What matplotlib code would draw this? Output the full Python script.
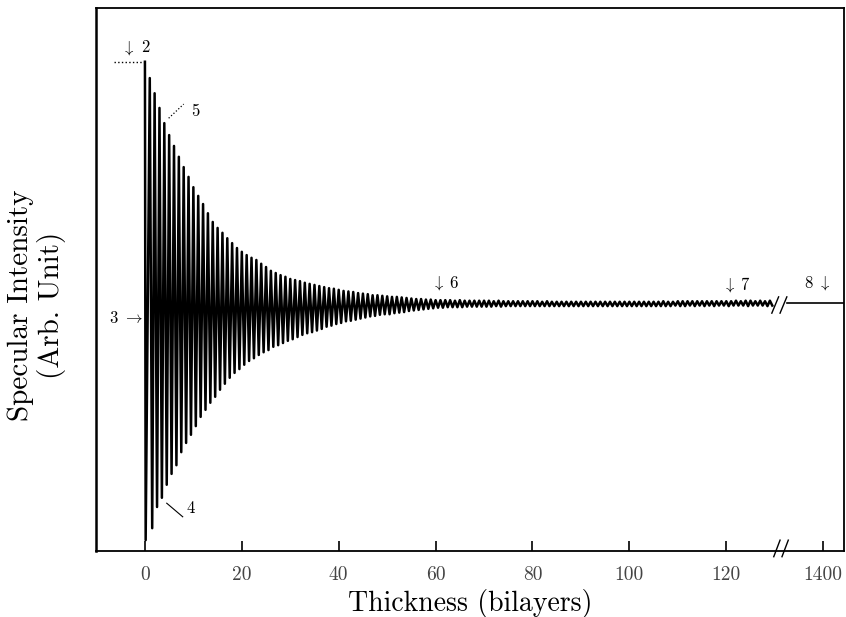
import numpy as np
import matplotlib.pyplot as plt

plt.rcParams['font.family'] = 'cmr10'
plt.rcParams['mathtext.fontset'] = 'cm'
plt.rcParams['axes.formatter.use_mathtext'] = True

# intensity maxima at each completed bilayer (n = 0..129), arb. units
peak_hi = [
    90.1, 87.1, 84.3, 81.6, 78.8, 76.6, 74.6, 72.6, 70.7, 68.9,
    67.0, 65.4, 63.9, 62.2, 60.6, 59.5, 58.6, 57.6, 56.7, 55.8,
    55.1, 54.5, 54.0, 53.6, 52.9, 52.3, 51.6, 51.2, 50.8, 50.5,
    50.1, 49.9, 49.7, 49.4, 49.2, 49.0, 48.8, 48.6, 48.4, 48.3,
    48.1, 47.9, 47.8, 47.7, 47.5, 47.4, 47.3, 47.1, 47.1, 47.0,
    46.9, 46.8, 46.8, 46.7, 46.6, 46.5, 46.4, 46.4, 46.3, 46.3,
    46.2, 46.2, 46.2, 46.2, 46.1, 46.2, 46.1, 46.1, 46.1, 46.1,
    46.1, 46.1, 46.0, 46.1, 46.0, 46.0, 46.0, 46.0, 46.0, 46.0,
    46.0, 46.0, 45.9, 46.0, 45.9, 45.9, 45.9, 45.9, 45.9, 45.9,
    45.9, 45.9, 45.9, 45.9, 45.9, 45.9, 45.9, 45.9, 45.9, 45.9,
    45.9, 45.9, 45.9, 45.9, 45.9, 45.9, 45.9, 46.0, 45.9, 45.9,
    46.0, 46.0, 46.0, 46.0, 46.0, 46.0, 46.0, 46.0, 46.0, 46.0,
    46.0, 46.0, 46.1, 46.0, 46.1, 46.1, 46.0, 46.1, 46.0, 46.1,
]
# intensity minima at half-filled layers
peak_lo = [
    2.0, 4.2, 8.1, 9.8, 12.2, 14.2, 15.8, 18.2, 19.9, 21.4,
    23.0, 24.7, 26.0, 27.3, 28.4, 29.7, 30.8, 31.9, 32.8, 33.5,
    34.3, 35.0, 35.5, 36.1, 36.6, 37.0, 37.6, 37.9, 38.3, 38.7,
    39.0, 39.4, 39.8, 40.1, 40.3, 40.6, 40.9, 41.3, 41.5, 41.8,
    42.0, 42.3, 42.4, 42.6, 42.8, 43.0, 43.2, 43.3, 43.5, 43.6,
    43.6, 43.8, 43.9, 44.0, 44.2, 44.3, 44.4, 44.5, 44.6, 44.7,
    44.8, 44.8, 44.9, 44.9, 44.9, 44.9, 45.0, 45.0, 45.0, 45.0,
    45.0, 45.0, 45.1, 45.0, 45.1, 45.1, 45.1, 45.1, 45.1, 45.1,
    45.1, 45.1, 45.1, 45.1, 45.1, 45.1, 45.1, 45.1, 45.1, 45.1,
    45.1, 45.1, 45.1, 45.1, 45.1, 45.1, 45.1, 45.1, 45.1, 45.1,
    45.1, 45.1, 45.1, 45.1, 45.1, 45.1, 45.1, 45.1, 45.1, 45.2,
    45.1, 45.1, 45.2, 45.1, 45.2, 45.1, 45.2, 45.1, 45.2, 45.2,
    45.1, 45.2, 45.2, 45.2, 45.1, 45.2, 45.2, 45.2, 45.1, 45.2,
]
hi_x = np.arange(len(peak_hi))
lo_x = np.r_[0.15, np.arange(1, len(peak_lo)) + 0.5]

# long-time part (after axis break)
late_x = [1392.6, 1405.0]
late_y = [45.7, 45.7]
initial_level = 90.1
shift = 1260  # 1400 drawn at 140

x_ticks = [0, 20, 40, 60, 80, 100, 120, 140]
x_labels = ['0', '20', '40', '60', '80', '100', '120', '1400']

# interleave maxima and minima
tx = np.empty(2 * len(hi_x))
ty = np.empty(2 * len(hi_x))
tx[0::2], tx[1::2] = hi_x, lo_x
ty[0::2], ty[1::2] = peak_hi, peak_lo

fig = plt.figure(figsize=(8.46, 6.17), dpi=100)
ax = fig.add_axes([96/846, 1-551/617, (844-96)/846, (551-8)/617])

ax.plot(tx, ty, 'k-', lw=1.8)
ax.plot(np.array(late_x) - shift, late_y, 'k-', lw=1.2)
ax.plot([-6.4, 0], [initial_level, initial_level], 'k:', lw=1.0)

ax.set_xlim(-10.1, 144.3)
ax.set_ylim(0, 100)

# axis break marks
ax.plot([129.4, 130.8], [43.8, 46.8], 'k-', lw=1.0)
ax.plot([131.1, 132.5], [43.8, 46.8], 'k-', lw=1.0)
ax.plot([129.8, 131.1], [-1.05, 2.0], 'k-', lw=1.0, clip_on=False)
ax.plot([131.5, 132.8], [-1.05, 2.0], 'k-', lw=1.0, clip_on=False)

ax.set_xticks(x_ticks)
ax.set_xticklabels(x_labels, color='#444444')
ax.set_yticks([])
ax.tick_params(axis='x', direction='in', length=7, width=1.2, pad=11, labelsize=14)
for s in ax.spines.values():
    s.set_linewidth(1.3)
ax.spines['left'].set_linewidth(1.8)

ax.set_xlabel('Thickness (bilayers)', fontsize=20, va='center')
ax.xaxis.set_label_coords(0.5, -0.096)
ax.set_ylabel('Specular Intensity\n(Arb. Unit)', fontsize=21, linespacing=1.15, va='center')
ax.yaxis.set_label_coords(-0.079, 0.453)

# labels of the marked points
fs = 12
ax.text(-3.4, 92.7, r'$\downarrow$', fontsize=fs, ha='center', va='center')
ax.text(0.0, 92.7, '2', fontsize=fs, ha='center', va='center')
ax.text(10.5, 81.0, '5', fontsize=fs, ha='center', va='center')
ax.plot([4.9, 8.0], [79.7, 82.3], 'k:', lw=0.9)
ax.text(9.5, 7.8, '4', fontsize=fs, ha='center', va='center')
ax.plot([4.5, 7.8], [8.8, 6.3], 'k-', lw=0.8)
ax.text(-6.4, 42.9, '3', fontsize=fs, ha='center', va='center')
ax.text(-2.4, 42.9, r'$\rightarrow$', fontsize=fs, ha='center', va='center')
ax.text(60.6, 49.3, r'$\downarrow$', fontsize=fs, ha='center', va='center')
ax.text(63.6, 49.3, '6', fontsize=fs, ha='center', va='center')
ax.text(120.6, 49.0, r'$\downarrow$', fontsize=fs, ha='center', va='center')
ax.text(123.7, 49.0, '7', fontsize=fs, ha='center', va='center')
ax.text(136.9, 49.3, '8', fontsize=fs, ha='center', va='center')
ax.text(140.2, 49.3, r'$\downarrow$', fontsize=fs, ha='center', va='center')

fig.savefig('out.png', dpi=100)
